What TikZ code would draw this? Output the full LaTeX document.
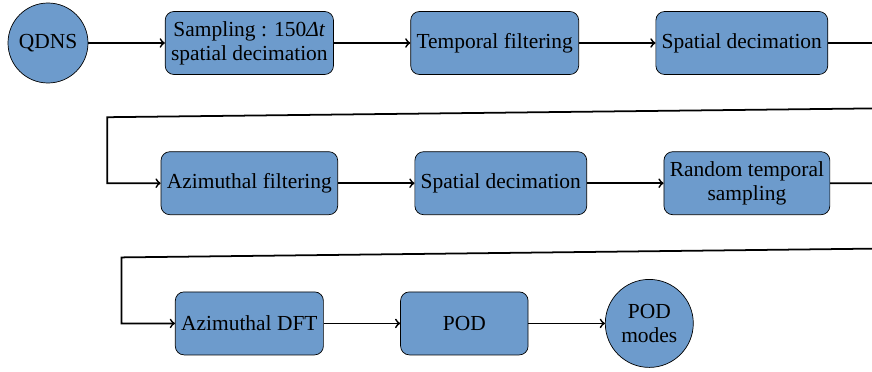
\documentclass[tikz,border=0pt]{standalone}
\usepackage{fontspec}
\setmainfont{Liberation Serif}
\usepackage{xcolor}
\usetikzlibrary{shapes,arrows,positioning,calc}

\definecolor{boxblue}{RGB}{109,155,204}

\begin{document}
\begin{tikzpicture}[node distance=1.53cm,
  every node/.style={font=\fontsize{12.2}{13.6}\selectfont},
  proc/.style={draw,rectangle,rounded corners=5pt,fill=boxblue,align=center,
    minimum width=2.55cm,minimum height=1.26cm},
  term/.style={draw,circle,fill=boxblue,align=center,minimum size=1.6cm,inner sep=2pt},
  link/.style={line width=1pt,->}]
\useasboundingbox (0,0) rectangle (17.44,-7.42);

% First row
\node[term] (qdns) at (0.96,-0.86) {QDNS};
\node[proc,right=of qdns] (samp) {Sampling : 150\textit{Δt}\\spatial decimation};
\node[proc,right=of samp] (tfilt) {Temporal filtering};
\node[proc,right=of tfilt] (sdec) {Spatial decimation};

% Second row
\node[proc,below=of samp] (afilt) {Azimuthal filtering};
\node[proc,right=of afilt] (sdecb) {Spatial decimation};
\node[proc,right=of sdecb] (rsamp) {Random temporal\\sampling};

% Third row
\node[proc,below=of afilt] (dft) {Azimuthal DFT};
\node[proc,right=of dft] (pod) {POD};
\node[term,right=of pod,minimum size=1.76cm] (modes) {POD\\modes};

\draw[link] (qdns) -- (samp);
\draw[link] (samp) -- (tfilt);
\draw[link] (tfilt) -- (sdec);
\draw[link] (sdec.east) -- ++(1.6,0) -- ++(0,-1.3) -- ($(afilt.west)+(-1.07,1.32)$) |- (afilt.west);

\draw[link] (afilt) -- (sdecb);
\draw[link] (sdecb) -- (rsamp);
\draw[link] (rsamp.east) -- ++(1.6,0) -- ++(0,-1.3) -- ($(dft.west)+(-1.07,1.32)$) |- (dft.west);

\draw[link] (dft) -- (pod);
\draw[link] (pod) -- (modes);
\end{tikzpicture}
\end{document}
